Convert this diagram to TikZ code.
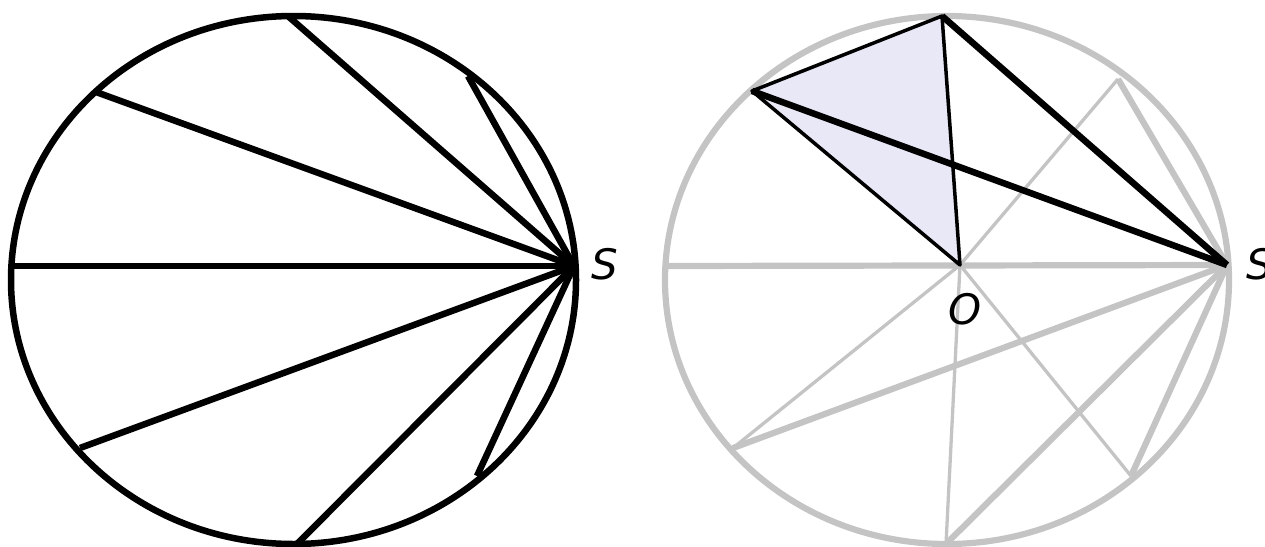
\documentclass[tikz,border=0pt]{standalone}
\usepackage{fontspec}
\newfontfamily\labfont{DejaVu Sans}
\definecolor{lgray}{HTML}{C4C4C4}
\definecolor{lav}{HTML}{E9E8F6}
\begin{document}
\begin{tikzpicture}[x=1pt,y=-1pt,
  boldline/.style={line width=6.5pt},
  thinline/.style={line width=3.5pt},
  gboldline/.style={line width=6.2pt,draw=lgray},
  gthinline/.style={line width=3.3pt,draw=lgray},
  lbl/.style={font=\labfont\itshape\fontsize{42}{44}\selectfont,inner sep=0pt}]
\useasboundingbox (0,0) rectangle (1265,546);
% ---------- left figure ----------
\coordinate (Sl) at (574,266);
\coordinate (l1) at (289,17);
\coordinate (l2) at (96,92);
\coordinate (l3) at (468,76);
\coordinate (l4) at (11,266);
\coordinate (l5) at (80,448);
\coordinate (l6) at (297,544);
\coordinate (l7) at (477,476);
\draw[boldline] (293.5,280) ellipse [x radius=282.5pt, y radius=264pt];
\foreach \p in {l1,l2,l3,l4,l5,l6,l7} \draw[boldline] (\p) -- (Sl);
\node[lbl] (labSl) at (605,264) {S};
% ---------- right figure ----------
\coordinate (Sr) at (1227,265);
\coordinate (O) at (960,265);
\coordinate (A) at (942,16);
\coordinate (B) at (752,91);
\coordinate (C) at (1118,79);
\coordinate (L) at (665,266);
\coordinate (D) at (733,448);
\coordinate (E) at (946,544);
\coordinate (F) at (1131,476);
\draw[gboldline] (947,280) ellipse [x radius=282pt, y radius=264pt];
\foreach \p in {C,L,D,E,F} \draw[gboldline] (\p) -- (Sr);
\foreach \p in {C,D,E,F} \draw[gthinline] (O) -- (\p);
\fill[lav] (A) -- (B) -- (O) -- cycle;
\draw[thinline,line join=round] (A) -- (B) -- (O) -- cycle;
\draw[boldline] (A) -- (Sr);
\draw[boldline] (B) -- (Sr);
\node[lbl] (labSr) at (1260,264) {S};
\node[lbl] (labO) at (965,309) {O};
\end{tikzpicture}
\end{document}
